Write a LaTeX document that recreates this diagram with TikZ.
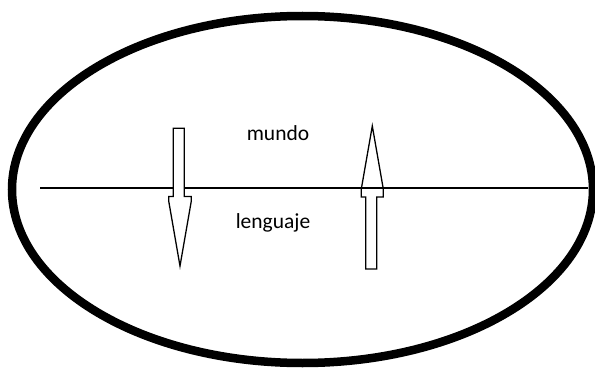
\documentclass[tikz,border=0pt]{standalone}
\usepackage{fontspec}
\setmainfont{Carlito}
\usepackage{tikz}
\tikzset{
	rim/.style      ={draw=black, line width=8.5pt},
	divider/.style  ={draw=black, line width=1.3pt},
	blockarrow/.style={draw=black, line width=1.3pt, line join=miter},
	word/.style     ={font=\fontsize{21.5}{24}\selectfont, inner sep=0pt, anchor=base},
}
\begin{document}
\begin{tikzpicture}[x=1pt, y=-1pt]
	\useasboundingbox (0,0) rectangle (595,369);
	\coordinate (c) at (302.5,189.5);
	\draw[rim] (c) ellipse [x radius=290.5, y radius=173.5];
	\coordinate (west) at (40,188);
	\coordinate (east) at (588,188);
	\draw[divider] (west) -- (east);
	\draw[blockarrow, fill=white] (173.3,128.3) -- (184.3,128.3) -- (184.3,196.5) -- (191.3,196.5) -- (191.3,201) -- (180,266)
		-- (168.7,201) -- (168.7,196.5) -- (173.3,196.5) -- cycle;
	\draw[blockarrow] (365.7,269) -- (376.7,269) -- (376.7,197) -- (383.3,197) -- (383.3,189) -- (372.3,126)
		-- (361.3,189) -- (361.3,197) -- (365.7,197) -- cycle;
	\node[word] (mundo) at (278,140.5) {mundo};
	\node[word] (lenguaje) at (273,228) {lenguaje};
\end{tikzpicture}
\end{document}
